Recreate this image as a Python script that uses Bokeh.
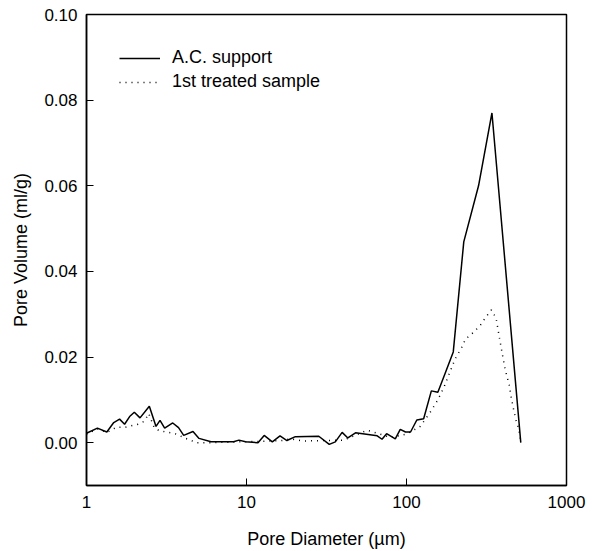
from bokeh.plotting import figure
from bokeh.models import Legend, LegendItem, FixedTicker, NumeralTickFormatter, Range1d
from bokeh.embed import file_html
from bokeh.resources import INLINE

# Pore diameter (um) and pore volume (ml/g)
ac_x = [1.0, 1.17, 1.34, 1.48, 1.61, 1.73, 1.86, 1.99, 2.16, 2.47, 2.72, 2.88, 3.08, 3.46,
        3.76, 4.05, 4.63, 5.05, 6.0, 8.3, 8.97, 9.86, 11.8, 12.9, 14.5, 16.2, 17.9, 20.2,
        28.3, 32.9, 35.9, 39.6, 43.0, 48.0, 65.6, 70.3, 75.1, 85.1, 91.4, 98.6, 106, 116,
        128, 143, 157, 174, 196, 228, 282, 342, 432, 518]
ac_y = [0.0022, 0.0034, 0.0025, 0.0047, 0.0055, 0.0043, 0.0061, 0.0071, 0.0058, 0.0085,
        0.0038, 0.0052, 0.0034, 0.0046, 0.0035, 0.0017, 0.0026, 0.0010, 0.0002, 0.0002,
        0.0006, 0.0002, 0.0000, 0.0017, 0.0002, 0.0016, 0.0005, 0.0014, 0.0015, -0.0004,
        0.0002, 0.0024, 0.0011, 0.0023, 0.0016, 0.0008, 0.0021, 0.0009, 0.0031, 0.0025,
        0.0025, 0.0053, 0.0056, 0.0121, 0.0118, 0.0161, 0.0212, 0.0469, 0.0600, 0.0770,
        0.0337, 0.0000]

tr_x = [1.0, 1.17, 1.34, 1.54, 1.74, 2.10, 2.30, 2.45, 2.65, 2.85, 3.15, 3.58, 4.17, 4.89,
        6.0, 9.0, 12.0, 16.7, 18.8, 22.5, 30, 40.5, 56.9, 80, 100, 122, 143, 157, 172, 201,
        221, 234, 261, 289, 313, 339, 363, 381, 397, 415, 439, 450, 471, 487, 503, 518]
tr_y = [0.0020, 0.0032, 0.0024, 0.0036, 0.0036, 0.0043, 0.0050, 0.0068, 0.0035, 0.0028,
        0.0025, 0.0021, 0.0010, 0.0000, 0.0000, 0.0002, 0.0003, 0.0005, 0.0009, 0.0004,
        0.0005, 0.0006, 0.0029, 0.0012, 0.0020, 0.0038, 0.0075, 0.0100, 0.0131, 0.0195,
        0.0222, 0.0242, 0.0257, 0.0274, 0.0293, 0.0310, 0.0291, 0.0245, 0.0207, 0.0169,
        0.0134, 0.0108, 0.0071, 0.0048, 0.0033, 0.0000]

x_ticks = [1, 10, 100, 1000]
y_ticks = [0.00, 0.02, 0.04, 0.06, 0.08, 0.10]
series_names = ["A.C. support", "1st treated sample"]

FONT = "Liberation Sans"

p = figure(x_axis_type="log", x_range=Range1d(1, 1000), y_range=Range1d(-0.01, 0.10),
           frame_width=480, frame_height=471, output_backend="svg", toolbar_location=None,
           min_border_left=86, min_border_top=14, min_border_right=29, min_border_bottom=40,
           background_fill_color="white", border_fill_color="white")

p.outline_line_color = "black"
p.outline_line_width = 1.5
p.outline_line_alpha = 1
p.xgrid.visible = False
p.ygrid.visible = False

p.xaxis.ticker = FixedTicker(ticks=x_ticks, minor_ticks=[])
p.yaxis.ticker = FixedTicker(ticks=y_ticks, minor_ticks=[])
p.xaxis.formatter = NumeralTickFormatter(format="0")
p.yaxis.formatter = NumeralTickFormatter(format="0.00")

for ax in (p.xaxis[0], p.yaxis[0]):
    ax.axis_line_width = 1.5
    ax.axis_line_color = "black"
    ax.major_tick_in = 7
    ax.major_tick_out = 0
    ax.major_tick_line_color = "black"
    ax.minor_tick_line_color = None
    ax.major_label_text_font = FONT
    ax.major_label_text_font_size = "17px"
    ax.major_label_text_color = "black"
    ax.axis_label_text_font = FONT
    ax.axis_label_text_font_size = "18px"
    ax.axis_label_text_font_style = "normal"
    ax.axis_label_text_color = "black"

p.xaxis.axis_label = "Pore Diameter (\u00b5m)"
p.yaxis.axis_label = "Pore Volume (ml/g)"
p.xaxis.major_label_standoff = 10
p.yaxis.major_label_standoff = 9
p.xaxis.axis_label_standoff = 18
p.yaxis.axis_label_standoff = 10

r1 = p.line(ac_x, ac_y, line_color="black", line_width=1.5)
r2 = p.line(tr_x, tr_y, line_color="black", line_width=1.5, line_dash="1 5")

legend = Legend(items=[LegendItem(label=series_names[0], renderers=[r1]),
                       LegendItem(label=series_names[1], renderers=[r2])],
                location="top_left", margin=33, padding=0, spacing=3,
                glyph_width=41, glyph_height=20, label_standoff=12,
                border_line_color=None, background_fill_alpha=0,
                label_text_font=FONT, label_text_font_size="18px",
                label_text_color="black")
p.add_layout(legend)

open("out.html", "w").write(file_html(p, INLINE))
